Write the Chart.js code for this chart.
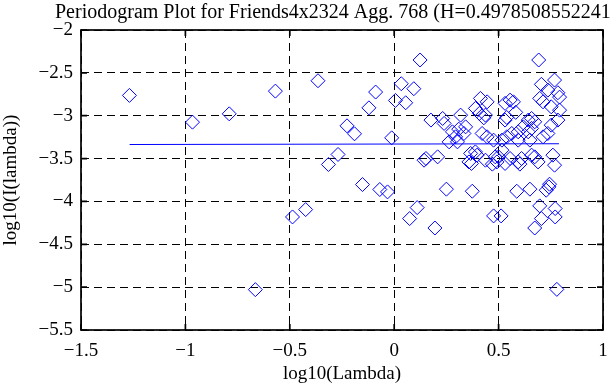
<!DOCTYPE html>
<html>
<head>
<meta charset="utf-8">
<script src="https://cdn.jsdelivr.net/npm/chart.js@4/dist/chart.umd.min.js"></script>
<style>
  html, body { margin: 0; padding: 0; background: #fff; }
  #wrap { width: 611px; height: 385px; }
</style>
</head>
<body>
<div id="wrap"><canvas id="chart" width="611" height="385"></canvas></div>
<script>
const titleText = 'Periodogram Plot for Friends4x2324 Agg. 768 (H=0.4978508552241';

// log10(lambda) and log10(I(lambda))
const logLambda = [
  -1.268, -0.966, -0.790, -0.569, -0.665, -0.487, -0.424, -0.365, -0.315, -0.269,
  -0.226, -0.190, -0.152, -0.121, -0.089, -0.069, -0.032, -0.012, 0.006, 0.034,
  0.055, 0.094, 0.124, 0.074, 0.110, 0.143, 0.195, 0.250, 0.374, 0.476,
  0.512, 0.587, 0.650, 0.728, 0.744, 0.697, 0.705, 0.673, 0.771, 0.771,
  0.779, 0.692, 0.697, 0.713, 0.768, 0.705, 0.736, 0.784, 0.792, 0.752,
  0.792, 0.784, 0.752, 0.736, 0.713, 0.673, 0.658, 0.642, 0.658, 0.618,
  0.594, 0.642, 0.650, 0.555, 0.531, 0.571, 0.582, 0.539, 0.531, 0.539,
  0.516, 0.563, 0.594, 0.413, 0.445, 0.389, 0.437, 0.408, 0.429, 0.421,
  0.445, 0.476, 0.176, 0.232, 0.239, 0.318, 0.279, 0.294, 0.342, 0.334,
  0.263, 0.303, 0.309, 0.152, 0.208, 0.366, 0.397, 0.358, 0.437, 0.484,
  0.492, 0.500, 0.555, 0.531, 0.594, 0.658, 0.689, 0.760, 0.768, 0.516,
  0.389, 0.602, 0.370, 0.470, 0.610, 0.673, 0.741
];
const logPower = [
  -2.763, -3.075, -2.978, -2.713, -5.029, -4.181, -4.095, -2.592, -3.569, -3.452,
  -3.118, -3.211, -3.803, -2.908, -2.724, -3.861, -3.889, -3.258, -2.822, -2.627,
  -2.849, -2.685, -2.350, -4.200, -4.072, -3.519, -4.310, -3.857, -3.881, -4.169,
  -4.169, -3.881, -3.857, -3.869, -3.799, -4.052, -4.200, -4.310, -4.083, -4.181,
  -5.026, -2.350, -2.798, -2.838, -2.584, -2.634, -2.701, -2.732, -2.783, -2.896,
  -2.935, -3.051, -3.110, -3.207, -3.246, -3.071, -3.032, -3.188, -3.148, -3.130,
  -3.188, -3.051, -3.285, -2.818, -2.856, -2.838, -2.961, -3.020, -3.051, -3.246,
  -3.285, -3.207, -3.285, -2.798, -2.838, -2.915, -2.993, -2.973, -3.025, -3.207,
  -3.246, -3.285, -3.051, -3.032, -3.090, -2.993, -3.188, -3.246, -3.130, -3.207,
  -3.305, -3.305, -3.157, -3.499, -3.480, -3.440, -3.460, -3.539, -3.519, -3.480,
  -3.539, -3.480, -3.499, -3.557, -3.539, -3.460, -3.539, -3.460, -3.577, -3.402,
  -3.422, -3.565, -3.557, -3.565, -3.499, -3.480, -3.830
];

// least squares fit line, two end points
const fitX = [-1.267, 0.789];
const fitY = [-3.336, -3.327];

const xTicks = [-1.5, -1, -0.5, 0, 0.5, 1];
const yTicks = [-2, -2.5, -3, -3.5, -4, -4.5, -5, -5.5];

const serif = 'Liberation Serif, Times New Roman, serif';
const minus = v => String(v).replace('-', '\u2212');

const scatterPts = logLambda.map((x, i) => ({ x: x, y: logPower[i] }));
const fitPts = fitX.map((x, i) => ({ x: x, y: fitY[i] }));

// frame, inward ticks and the (cut off) title
const framePlugin = {
  id: 'frame',
  afterDraw(chart) {
    const { ctx, chartArea: a, scales } = chart;
    ctx.save();
    ctx.strokeStyle = '#000';
    ctx.lineWidth = 1.7;
    ctx.setLineDash([]);
    ctx.strokeRect(a.left, a.top, a.right - a.left, a.bottom - a.top);
    ctx.beginPath();
    yTicks.forEach(v => {
      const py = scales.y.getPixelForValue(v);
      ctx.moveTo(a.left, py); ctx.lineTo(a.left + 6, py);
      ctx.moveTo(a.right, py); ctx.lineTo(a.right - 6, py);
    });
    xTicks.forEach(v => {
      const px = scales.x.getPixelForValue(v);
      ctx.moveTo(px, a.bottom); ctx.lineTo(px, a.bottom - 6);
      ctx.moveTo(px, a.top); ctx.lineTo(px, a.top + 6);
    });
    ctx.stroke();
    ctx.fillStyle = '#000';
    ctx.font = '20px ' + serif;
    ctx.textAlign = 'left';
    ctx.textBaseline = 'middle';
    ctx.fillText(titleText, 55, 13);
    ctx.restore();
  }
};

const ctx = document.getElementById('chart').getContext('2d');

new Chart(ctx, {
  type: 'scatter',
  data: {
    datasets: [{
      label: 'periodogram',
      data: scatterPts,
      pointStyle: 'rectRot',
      pointRadius: 7,
      pointBorderWidth: 1,
      borderColor: '#0000ff',
      backgroundColor: 'rgba(0,0,0,0)'
    }, {
      type: 'line',
      label: 'fit',
      data: fitPts,
      borderColor: '#0000ff',
      borderWidth: 1,
      pointRadius: 0,
      fill: false
    }]
  },
  options: {
    responsive: false,
    animation: false,
    layout: { padding: { top: 30, right: 2, left: 0, bottom: 0 } },
    plugins: {
      legend: { display: false },
      tooltip: { enabled: false }
    },
    scales: {
      x: {
        type: 'linear',
        min: -1.5,
        max: 1,
        afterBuildTicks: s => { s.ticks = xTicks.map(v => ({ value: v })); },
        afterFit: s => { s.height = 55; s.paddingLeft = 0; s.paddingRight = 0; },
        grid: { color: '#000', lineWidth: 1, drawTicks: false },
        border: { display: false, dash: [8, 5] },
        ticks: {
          color: '#000',
          padding: 10,
          font: { family: serif, size: 19 },
          callback: v => minus(v)
        },
        title: {
          display: true,
          text: 'log10(Lambda)',
          color: '#000',
          padding: 0,
          font: { family: serif, size: 19 }
        }
      },
      y: {
        type: 'linear',
        min: -5.5,
        max: -2,
        afterBuildTicks: s => { s.ticks = yTicks.map(v => ({ value: v })); },
        afterFit: s => { s.width = 81; s.paddingTop = 0; s.paddingBottom = 0; },
        grid: { color: '#000', lineWidth: 1, drawTicks: false },
        border: { display: false, dash: [8, 5] },
        ticks: {
          color: '#000',
          padding: 8,
          font: { family: serif, size: 19 },
          callback: v => minus(v)
        },
        title: {
          display: true,
          text: 'log10(I(lambda))',
          color: '#000',
          padding: 0,
          font: { family: serif, size: 19 }
        }
      }
    }
  },
  plugins: [framePlugin]
});
</script>
</body>
</html>
